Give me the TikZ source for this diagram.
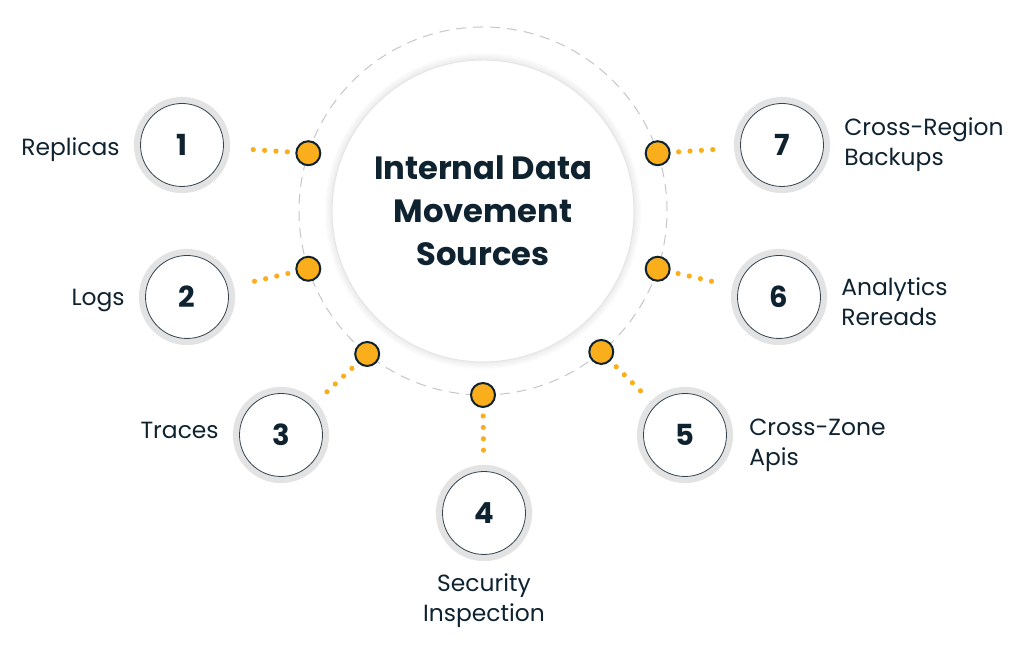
\documentclass[tikz,border=0pt]{standalone}
\usepackage{fontspec}
\setmainfont{Poppins}
\usetikzlibrary{positioning,calc}

\definecolor{inkdark}{HTML}{0E2230}
\definecolor{dotorange}{HTML}{FAAE1C}
\definecolor{ringgray}{HTML}{E3E3E3}
\definecolor{dashgray}{HTML}{C6C6C6}

\tikzset{
  hubcircle/.style={circle, minimum size=151pt, inner sep=0pt, fill=white, draw=black!10, line width=0.5pt,
    align=center, text=inkdark, font=\fontsize{16.1}{21.5}\selectfont\bfseries},
  numcircle/.style={circle, minimum size=41.5pt, inner sep=0pt, fill=white, draw=inkdark!85, line width=0.4pt,
    preaction={draw=ringgray, line width=6.6pt}, text=inkdark, font=\fontsize{14.5}{16}\selectfont\bfseries},
  hubdot/.style={circle, minimum size=12pt, inner sep=0pt, fill=dotorange, draw=inkdark, line width=1pt},
  sourcelabel/.style={inner sep=0pt, text=inkdark, font=\fontsize{11.7}{15}\selectfont},
}

\begin{document}
\begin{tikzpicture}[x=0.5pt, y=0.5pt]
\useasboundingbox (0,0) rectangle (1024,651);

% centre and its soft shadow
\coordinate (c) at (483,440);
\foreach \k in {1,...,6}
  \fill[black, opacity=0.012] (c) circle (75.5pt+\k*0.6pt);
\draw[dashgray, line width=0.5pt, dash pattern=on 5pt off 3.5pt] (c) circle (92pt);
\node[hubcircle] (hub) at (c) {Internal Data\\Movement\\Sources};

% dots on the dashed ring
\foreach \i/\a in {1/161.7, 2/198.3, 3/231, 4/270, 5/310, 6/341.7, 7/18.3}
  \node[hubdot] (d\i) at ($(c)+(\a:184)$) {};

% numbered circles
\node[numcircle] (n1) at (182,506) {1};
\node[numcircle] (n2) at (187,354) {2};
\node[numcircle] (n3) at (281,216) {3};
\node[numcircle] (n4) at (484,138) {4};
\node[numcircle] (n5) at (685,216) {5};
\node[numcircle] (n6) at (779,354) {6};
\node[numcircle] (n7) at (782,506) {7};

% dotted links
\foreach \i in {1,...,7}
  \foreach \t in {10.5,16.2,21.9,27.6}
    \fill[dotorange] ($(d\i)!\t pt!(n\i)$) circle (1.3pt);

% labels
\node[sourcelabel, left=10pt of n1, yshift=-2.5pt] (l1) {Replicas};
\node[sourcelabel, left=10pt of n2, yshift=-2pt] (l2) {Logs};
\node[sourcelabel, left=10pt of n3, yshift=2.5pt] (l3) {Traces};
\node[sourcelabel, below=9pt of n4, align=center] (l4) {Security\\Inspection};
\node[sourcelabel, right=11pt of n5, align=left, yshift=-5pt] (l5) {Cross-Zone\\Apis};
\node[sourcelabel, right=10pt of n6, align=left, yshift=-2.5pt] (l6) {Analytics\\Rereads};
\node[sourcelabel, right=10pt of n7, align=left] (l7) {Cross-Region\\Backups};
\end{tikzpicture}
\end{document}
